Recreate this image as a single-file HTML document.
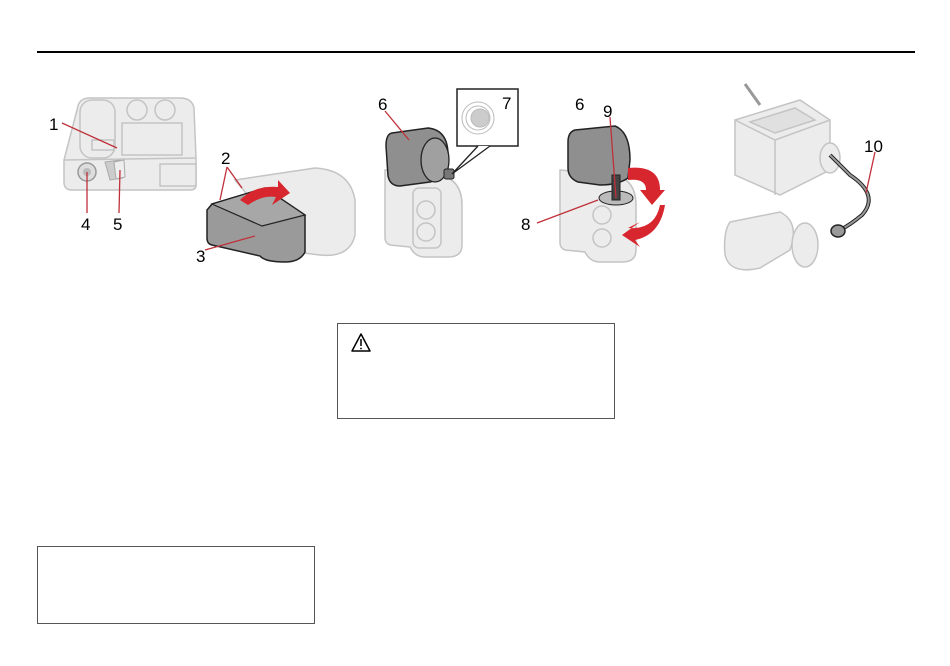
<!DOCTYPE html>
<html><head><meta charset="utf-8"><style>
html,body{margin:0;padding:0;background:#fff;}
body{width:950px;height:666px;position:relative;overflow:hidden;font-family:"Liberation Sans",sans-serif;}
.rule{position:absolute;left:37px;top:51px;width:878px;height:2px;background:#000;}
.box{position:absolute;border:1px solid #555;background:#fff;}
svg{position:absolute;left:0;top:0;}
</style></head><body>
<div class="rule"></div>
<svg width="950" height="666" viewBox="0 0 950 666" font-family="Liberation Sans, sans-serif" font-size="17">
<!-- Item 1: device top view -->
<g stroke="#c4c4c4" stroke-width="1.5" fill="#ececec">
<path d="M78 106 Q80 98 90 98 L180 98 Q192 98 194 108 L196 158 L196 185 Q196 190 190 190 L72 190 Q64 190 64 182 L64 160 Z"/>
<path d="M64 160 L196 158" fill="none"/>
<rect x="80" y="100" width="35" height="58" rx="12"/>
<circle cx="137" cy="110" r="10"/><circle cx="165" cy="110" r="10"/>
<rect x="122" y="123" width="60" height="32"/>
<rect x="92" y="140" width="22" height="10"/>
<rect x="160" y="164" width="36" height="22"/>
</g>
<circle cx="87" cy="172" r="9" fill="#ddd" stroke="#999" stroke-width="1.5"/>
<circle cx="87" cy="172" r="4" fill="#bbb"/>
<path d="M105 162 L120 160 L123 178 L110 180 Z" fill="#ccc" stroke="#aaa"/>
<path d="M114 162 L124 160 L125 177 L116 179 Z" fill="#eee" stroke="#aaa"/>
<g stroke="#c0303a" stroke-width="1.3"><line x1="62" y1="123" x2="117" y2="148"/><line x1="87" y1="172" x2="87" y2="213"/><line x1="120" y1="170" x2="119" y2="213"/></g>
<text x="49" y="130">1</text><text x="81" y="230">4</text><text x="113" y="230">5</text>
<!-- Item 2/3 -->
<g stroke="#c4c4c4" stroke-width="1.5" fill="#ececec">
<path d="M235 180 L315 168 Q350 170 355 200 L355 235 Q350 258 320 255 L295 252 Z"/>
</g>
<path d="M212 204 L265 188 L305 215 L305 252 Q300 262 285 262 Q265 262 260 256 L212 245 Q207 244 207 238 L207 210 Z" fill="#9a9a9a" stroke="#222" stroke-width="1.5"/>
<path d="M212 204 L265 188 L305 215 L262 226 Z" fill="#a7a7a7" stroke="#222" stroke-width="1.2"/>
<path d="M240 200 Q255 185 278 187 L278 180 L290 193 L272 205 L276 197 Q262 195 248 205 Z" fill="#d7262d"/>
<g stroke="#c0303a" stroke-width="1.3"><line x1="227" y1="167" x2="220" y2="200"/><line x1="227" y1="167" x2="242" y2="188"/><line x1="205" y1="250" x2="255" y2="236"/></g>
<text x="221" y="164">2</text><text x="196" y="262">3</text>
<!-- Item 6/7 -->
<g stroke="#c4c4c4" stroke-width="1.5" fill="#ececec">
<path d="M385 170 L440 175 Q462 180 462 205 L462 245 Q462 257 448 257 L425 257 Q415 257 410 247 L390 245 Q385 243 385 238 Z"/>
<rect x="413" y="188" width="28" height="60" rx="6"/>
<circle cx="426" cy="210" r="9"/><circle cx="426" cy="232" r="9"/>
</g>
<path d="M392 133 L428 128 Q448 130 448 155 Q448 178 430 182 L400 186 Q390 186 388 176 L386 146 Q386 134 392 133 Z" fill="#8f8f8f" stroke="#222" stroke-width="1.5"/>
<ellipse cx="435" cy="160" rx="14" ry="22" fill="#a0a0a0" stroke="#222" stroke-width="1.3"/>
<rect x="444" y="169" width="10" height="10" rx="2" fill="#777" stroke="#222"/>
<rect x="457" y="89" width="61" height="57" fill="#fff" stroke="#222" stroke-width="1.5"/>
<g stroke="#bbb" fill="none"><circle cx="478" cy="118" r="16"/><circle cx="478" cy="118" r="12"/><circle cx="480" cy="118" r="9" fill="#ccc"/></g>
<path d="M478 146 L452 174 L490 146" fill="#fff" stroke="#222" stroke-width="1.3"/>
<line x1="385" y1="111" x2="409" y2="140" stroke="#c0303a" stroke-width="1.3"/>
<text x="378" y="110">6</text><text x="502" y="109">7</text>
<!-- Item 8/9 -->
<g stroke="#c4c4c4" stroke-width="1.5" fill="#ececec">
<path d="M560 170 L615 175 Q636 180 636 205 L636 250 Q636 262 622 262 L600 262 Q590 262 585 252 L565 250 Q560 248 560 243 Z"/>
<circle cx="602" cy="215" r="9"/><circle cx="602" cy="238" r="9"/>
</g>
<path d="M575 130 L615 126 Q630 132 630 160 L628 178 Q618 185 600 185 L578 182 Q568 178 568 168 L568 142 Q568 132 575 130 Z" fill="#8f8f8f" stroke="#222" stroke-width="1.5"/>
<ellipse cx="616" cy="198" rx="17" ry="7" fill="#bbb" stroke="#222"/>
<rect x="612" y="175" width="8" height="25" fill="#444" stroke="#222"/>
<path d="M628 168 Q660 165 660 190 L665 190 L652 205 L640 190 L646 190 Q646 178 628 180 Z" fill="#d7262d"/>
<path d="M628 228 Q655 230 660 205 L665 205 Q660 235 635 240 L640 247 L622 235 L640 222 Z" fill="#d7262d"/>
<g stroke="#c0303a" stroke-width="1.3"><line x1="537" y1="223" x2="598" y2="200"/><line x1="610" y1="117" x2="616" y2="198"/></g>
<text x="575" y="110">6</text><text x="603" y="117">9</text><text x="521" y="230">8</text>
<!-- Item 10 -->
<g stroke="#c4c4c4" stroke-width="1.5" fill="#ececec">
<path d="M735 120 L800 100 L830 120 L830 170 L780 195 L735 175 Z"/>
<path d="M735 120 L775 140 L830 120 M775 140 L775 195" fill="none"/>
<path d="M750 122 L795 108 L815 120 L775 133 Z" fill="#e0e0e0"/>
<ellipse cx="830" cy="158" rx="10" ry="15"/>
<path d="M730 222 L780 212 Q800 222 790 250 L760 268 Q730 275 725 255 Q723 232 730 222 Z"/>
<ellipse cx="805" cy="245" rx="13" ry="22"/>
</g>
<line x1="745" y1="84" x2="760" y2="105" stroke="#999" stroke-width="3"/>
<path d="M830 155 Q845 170 850 175 Q880 195 862 215 Q850 225 840 230" fill="none" stroke="#222" stroke-width="4"/>
<path d="M830 155 Q845 170 850 175 Q880 195 862 215 Q850 225 840 230" fill="none" stroke="#999" stroke-width="2"/>
<ellipse cx="838" cy="231" rx="7" ry="6" fill="#999" stroke="#222" stroke-width="1.5"/>
<line x1="875" y1="152" x2="866" y2="193" stroke="#c0303a" stroke-width="1.3"/>
<text x="864" y="152">10</text>
<!-- warning icon -->
<path d="M361 334 L352 351 L370 351 Z" fill="none" stroke="#000" stroke-width="1.5" stroke-linejoin="round"/>
<line x1="361" y1="339" x2="361" y2="346" stroke="#000" stroke-width="1.5"/>
<circle cx="361" cy="348.5" r="0.9" fill="#000"/>
</svg>
<div class="box" style="left:337px;top:323px;width:276px;height:94px;background:transparent;"></div>
<div class="box" style="left:37px;top:546px;width:276px;height:76px;"></div>
</body></html>
